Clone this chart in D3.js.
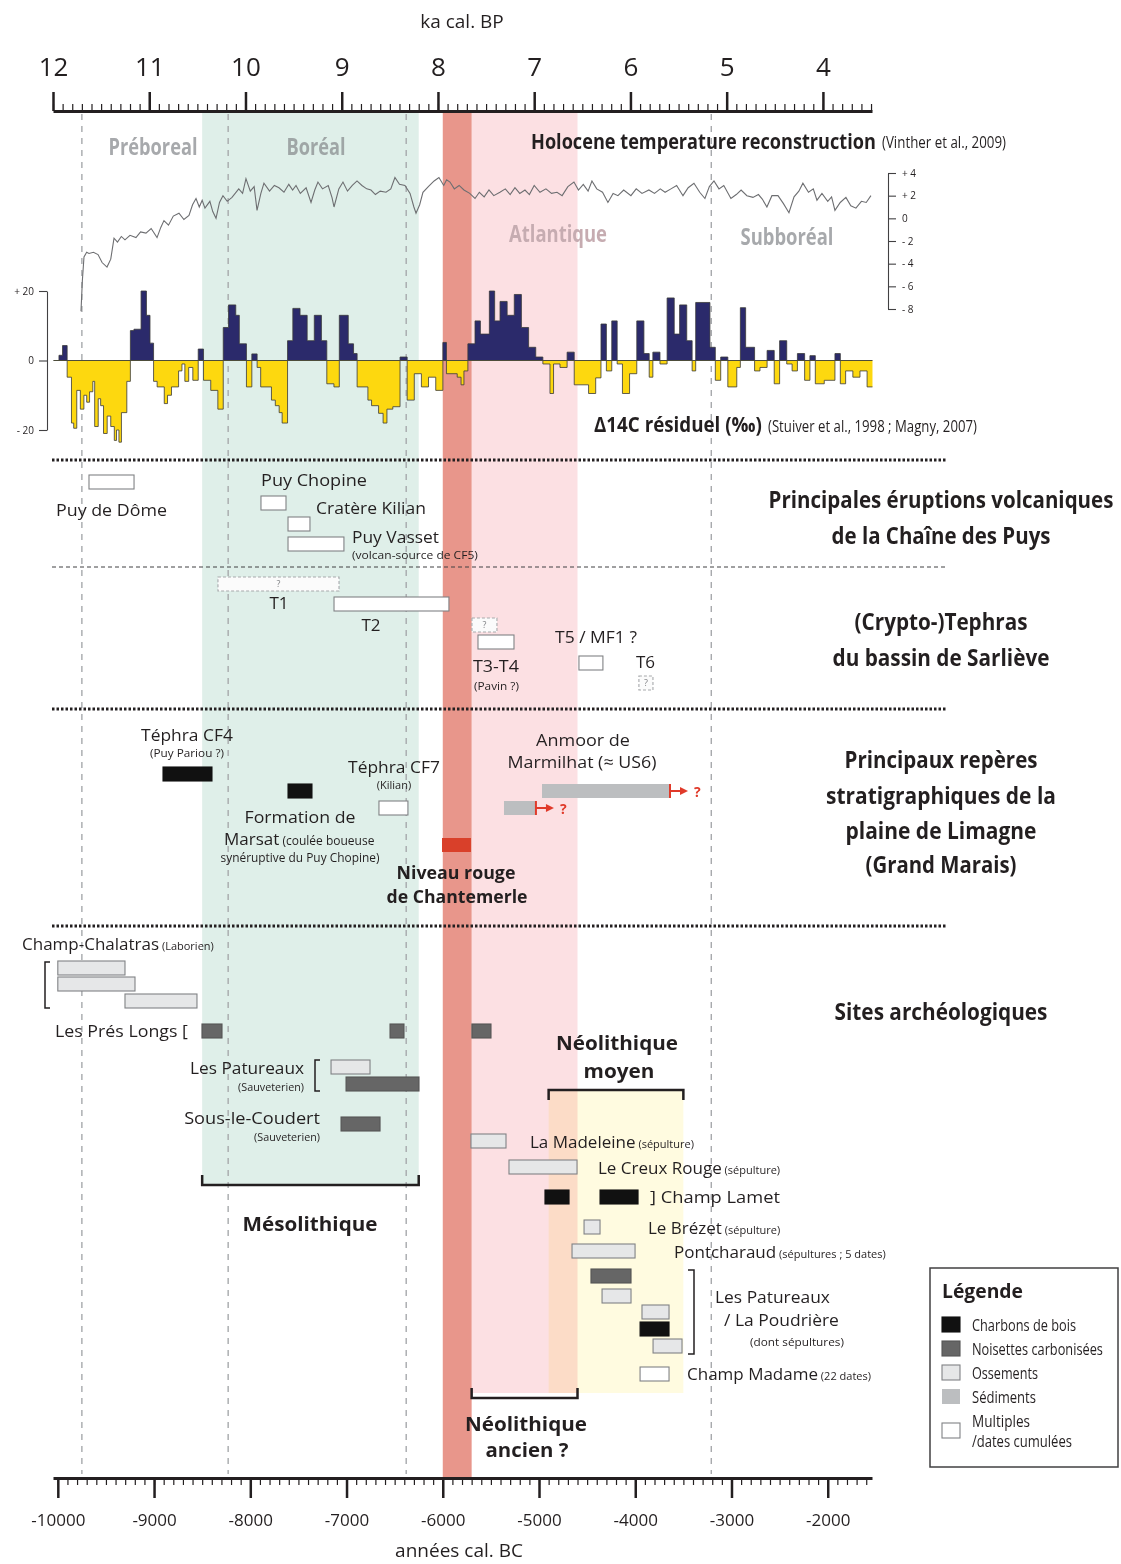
<!DOCTYPE html>
<html>
<head>
<meta charset="utf-8">
<script src="https://cdn.jsdelivr.net/npm/d3@7"></script>
<style>
  body { margin: 0; background: #fff; }
</style>
</head>
<body>
<div id="chart"></div>
<script>
// ---- data (years are cal. BC, negative) ----
var topTicksKa = [12000, 11000, 10000, 9000, 8000, 7000, 6000, 5000, 4000];
var bottomTicks = [-10000, -9000, -8000, -7000, -6000, -5000, -4000, -3000, -2000];
var periodBounds = [-9750, -8230, -6380, -3210];

var bandNames = ["Boréal", "Atlantique", "8.2 ka", "Néolithique moyen"];
var bandStart = [-8500, -5700, -6000, -4900];
var bandEnd = [-6250, -4600, -5700, -3500];

var tempTicks = [4, 2, 0, -2, -4, -6, -8];
var d14cTicks = [20, 0, -20];

// Holocene temperature anomaly (Vinther et al. 2009)
var tempSeries = [
  [-9759,-8.2],[-9745,-5.5],[-9728,-3.4],[-9700,-3.0],[-9676,-3.1],[-9630,-3.0],[-9582,-3.2],[-9540,-3.9],
  [-9489,-4.3],[-9450,-3.6],[-9416,-1.75],[-9380,-2.1],[-9340,-1.6],[-9302,-1.9],[-9250,-1.5],[-9188,-1.7],
  [-9140,-1.2],[-9084,-1.3],[-9030,-0.9],[-8969,-1.7],[-8930,-0.8],[-8897,-0.2],[-8850,-0.6],[-8800,0.2],
  [-8741,0.45],[-8690,-0.1],[-8637,0.25],[-8600,1.2],[-8564,1.75],[-8530,1.0],[-8500,1.6],[-8471,0.9],
  [-8420,1.5],[-8390,0.6],[-8356,0.0],[-8320,1.4],[-8284,2.0],[-8240,1.5],[-8190,1.85],[-8120,2.6],
  [-8080,2.2],[-8045,3.5],[-8000,2.4],[-7960,2.8],[-7930,0.7],[-7890,2.2],[-7858,3.1],[-7800,2.4],
  [-7750,2.9],[-7702,2.7],[-7650,2.3],[-7600,3.0],[-7560,2.5],[-7525,2.9],[-7480,2.2],[-7420,2.7],
  [-7369,1.4],[-7330,2.5],[-7297,3.2],[-7250,2.6],[-7190,2.9],[-7150,1.8],[-7130,1.0],[-7080,2.6],
  [-7037,3.2],[-6990,2.4],[-6940,2.9],[-6891,3.3],[-6840,2.9],[-6790,2.6],[-6746,2.5],[-6700,2.1],
  [-6650,2.4],[-6590,2.3],[-6540,2.6],[-6497,3.6],[-6450,3.0],[-6393,2.9],[-6340,2.2],[-6300,1.0],
  [-6278,0.45],[-6240,1.2],[-6206,2.3],[-6150,2.8],[-6090,3.3],[-6040,3.6],[-5990,2.9],[-5960,3.4],
  [-5925,3.2],[-5880,2.6],[-5830,2.9],[-5780,2.5],[-5720,2.2],[-5665,1.75],[-5620,2.3],[-5570,1.9],
  [-5520,2.5],[-5470,2.0],[-5406,2.3],[-5350,2.6],[-5300,2.1],[-5250,2.7],[-5200,2.2],[-5146,2.5],
  [-5100,2.1],[-5050,2.9],[-4990,2.3],[-4928,2.6],[-4870,2.2],[-4813,2.3],[-4760,2.0],[-4700,2.8],
  [-4637,3.2],[-4590,2.5],[-4540,3.0],[-4490,2.4],[-4450,3.3],[-4400,2.6],[-4340,2.3],[-4284,1.4],
  [-4230,2.2],[-4180,2.0],[-4120,2.5],[-4045,2.0],[-3990,2.6],[-3930,2.2],[-3858,2.5],[-3800,2.2],
  [-3740,2.6],[-3690,2.3],[-3629,2.6],[-3570,2.9],[-3504,2.0],[-3450,2.7],[-3390,3.1],[-3330,2.3],
  [-3276,1.75],[-3230,2.8],[-3182,3.3],[-3130,2.6],[-3080,2.9],[-3006,1.75],[-2950,2.1],[-2900,2.5],
  [-2840,2.0],[-2777,1.85],[-2720,2.1],[-2680,1.7],[-2632,1.0],[-2580,2.0],[-2517,2.0],[-2460,1.3],
  [-2403,0.5],[-2350,1.9],[-2300,2.4],[-2258,3.1],[-2200,2.3],[-2150,2.6],[-2112,1.6],[-2060,2.2],
  [-2000,1.5],[-1960,1.9],[-1925,0.7],[-1870,1.4],[-1811,1.85],[-1760,1.1],[-1707,0.9],[-1650,1.5],
  [-1600,1.4],[-1551,2.0]
];

// residual D14C (permil), step values starting at each year
var d14cSeries = [
  [-10044,0],[-9988,1.5],[-9951,4.3],[-9903,-4.8],[-9858,-18],[-9835,-19.5],[-9803,-8.6],[-9766,-14],
  [-9729,-10],[-9700,-12],[-9670,-9],[-9636,-6],[-9617,-19],[-9580,-11],[-9555,-13],[-9525,-21],
  [-9487,-16],[-9450,-19],[-9413,-23],[-9390,-20],[-9365,-23.5],[-9339,-15],[-9283,-6],
  [-9246,8.6],[-9209,9],[-9135,20],[-9079,13],[-9042,5],[-9005,-6],[-8968,-7.6],[-8894,-12.4],
  [-8860,-10],[-8819,-7.6],[-8745,-3],[-8710,-1],[-8680,-6],[-8640,-2],[-8597,-5.7],[-8541,3.3],
  [-8486,-5.7],[-8411,-8.6],[-8337,-14],[-8281,9.5],
  [-8226,16],[-8151,13],[-8114,4.8],[-8040,-7.6],[-7984,1.9],[-7929,-2],[-7892,-7.6],[-7780,-11.4],
  [-7740,-13],[-7700,-15],[-7669,-18],[-7613,5.7],[-7558,15],[-7483,13],[-7409,5.7],[-7335,13],
  [-7261,5.7],[-7205,-6.7],[-7131,-7.6],[-7075,13],[-6982,4.8],[-6927,2],[-6890,-7.6],[-6778,-11.4],
  [-6740,-13],[-6667,-15.2],[-6620,-18],[-6580,-14],[-6519,-13.3],
  [-6444,1],[-6370,-11.4],[-6296,-3.8],[-6222,-7.6],[-6148,-4.8],[-6073,-8.6],[-5999,5.2],[-5962,-3.8],
  [-5850,-4.8],[-5810,-7],[-5780,-3],[-5739,4.8],[-5665,11.4],[-5609,7.6],[-5516,20],[-5461,11.4],
  [-5405,17],[-5331,13],[-5257,19],[-5183,9.5],[-5108,3.8],[-5034,1],[-4960,-1],[-4886,-9.5],
  [-4849,-1],[-4782,-2],
  [-4708,2.4],[-4634,-7],[-4485,-9.5],[-4411,-5],[-4356,10.5],[-4300,-3],[-4244,11.4],[-4188,-1],
  [-4133,-9.5],[-4059,-3.8],[-3984,11.4],[-3910,2],[-3855,-4.8],[-3817,2.4],[-3743,-1],[-3669,18],
  [-3595,7.6],[-3539,16],[-3465,5.7],[-3409,-3],[-3372,16.7],[-3224,3.8],[-3168,-5.7],[-3112,1],
  [-3038,-7.6],[-2945,-2],[-2908,15.2],[-2853,3.8],[-2760,-3],[-2704,-2],[-2630,2.9],[-2556,-6.7],
  [-2500,5.7],[-2426,-1],[-2370,-3],[-2315,2],[-2240,-5.7],[-2185,1.4],[-2129,-6.7],[-2036,-5.7],
  [-1925,2],[-1869,-6.7],[-1814,-3],[-1739,-4.8],[-1665,-3],[-1591,-7.6],[-1535,-7.6]
];

// dated events: start / end (BC), material type, layout row
var eruptions = [
  {name: "Puy de Dôme", start: -9676, end: -9208, type: "multiple", row: "dome"},
  {name: "Puy Chopine", start: -7889, end: -7629, type: "multiple", row: "chopine"},
  {name: "Cratère Kilian", start: -7608, end: -7380, type: "multiple", row: "kilian"},
  {name: "Puy Vasset", start: -7608, end: -7027, type: "multiple", row: "vasset"}
];
var tephras = [
  {name: "T1", start: -8336, end: -7078, type: "uncertain", row: "t1"},
  {name: "T2", start: -7130, end: -5936, type: "multiple", row: "t2"},
  {name: "T3-T4 ?", start: -5697, end: -5437, type: "uncertain", row: "t34q"},
  {name: "T3-T4", start: -5634, end: -5260, type: "multiple", row: "t34"},
  {name: "T5 / MF1", start: -4585, end: -4336, type: "multiple", row: "t5"},
  {name: "T6", start: -3962, end: -3816, type: "uncertain", row: "t6"}
];
var reperes = [
  {name: "Téphra CF4", start: -8907, end: -8398, type: "charbon", row: "cf4"},
  {name: "Formation de Marsat", start: -7608, end: -7359, type: "charbon", row: "marsat"},
  {name: "Téphra CF7", start: -6663, end: -6362, type: "multiple", row: "cf7"},
  {name: "Niveau rouge", start: -6008, end: -5707, type: "rouge", row: "rouge"},
  {name: "Anmoor de Marmilhat", start: -4969, end: -3639, type: "sediment", row: "anmoor"},
  {name: "Anmoor (base)", start: -5364, end: -5032, type: "sediment", row: "anmoor2"}
];
var sites = [
  {name: "Champ-Chalatras", start: -10000, end: -9302, type: "ossement", row: "chal1"},
  {name: "Champ-Chalatras", start: -10000, end: -9198, type: "ossement", row: "chal2"},
  {name: "Champ-Chalatras", start: -9302, end: -8554, type: "ossement", row: "chal3"},
  {name: "Les Prés Longs", start: -8502, end: -8294, type: "noisette", row: "pres"},
  {name: "Les Prés Longs", start: -6548, end: -6403, type: "noisette", row: "pres"},
  {name: "Les Prés Longs", start: -5697, end: -5499, type: "noisette", row: "pres"},
  {name: "Les Patureaux", start: -7161, end: -6756, type: "ossement", row: "pat1"},
  {name: "Les Patureaux", start: -7005, end: -6247, type: "noisette", row: "pat2"},
  {name: "Sous-le-Coudert", start: -7057, end: -6652, type: "noisette", row: "sous"},
  {name: "La Madeleine", start: -5707, end: -5343, type: "ossement", row: "mad"},
  {name: "Le Creux Rouge", start: -5312, end: -4605, type: "ossement", row: "creux"},
  {name: "Champ Lamet", start: -4938, end: -4688, type: "charbon", row: "lamet"},
  {name: "Champ Lamet", start: -4366, end: -3971, type: "charbon", row: "lamet"},
  {name: "Le Brézet", start: -4532, end: -4366, type: "ossement", row: "brez"},
  {name: "Pontcharaud", start: -4657, end: -4002, type: "ossement", row: "pont"},
  {name: "Les Patureaux / La Poudrière", start: -4460, end: -4044, type: "noisette", row: "pp1"},
  {name: "Les Patureaux / La Poudrière", start: -4345, end: -4044, type: "ossement", row: "pp2"},
  {name: "Les Patureaux / La Poudrière", start: -3930, end: -3649, type: "ossement", row: "pp3"},
  {name: "Les Patureaux / La Poudrière", start: -3950, end: -3649, type: "charbon", row: "pp4"},
  {name: "Les Patureaux / La Poudrière", start: -3815, end: -3514, type: "ossement", row: "pp5"},
  {name: "Champ Madame", start: -3950, end: -3649, type: "multiple", row: "madame"}
];
var culturePeriods = ["Mésolithique", "Néolithique moyen", "Néolithique ancien ?"];
var cultureStart = [-8500, -4900, -5700];
var cultureEnd = [-6250, -3500, -4600];

var legendTypes = ["charbon", "noisette", "ossement", "sediment", "multiple"];
var legendLabels = ["Charbons de bois", "Noisettes carbonisées", "Ossements", "Sédiments", "Multiples"];

// ---- layout ----
var W = 1121, H = 1564;
var regFont = "'Open Sans', 'Noto Sans', sans-serif";
var condFont = "'Open Sans', 'Noto Sans', sans-serif";
var ink = "#231f20";

var rowTop = {
  dome: 475, chopine: 496, kilian: 517, vasset: 537,
  t1: 577, t2: 597, t34q: 618, t34: 635, t5: 656, t6: 676,
  cf4: 767, marsat: 784, cf7: 801, rouge: 838, anmoor: 784, anmoor2: 801,
  chal1: 961, chal2: 977, chal3: 994, pres: 1024, pat1: 1060, pat2: 1077, sous: 1117,
  mad: 1134, creux: 1160, lamet: 1190, brez: 1220, pont: 1244,
  pp1: 1269, pp2: 1289, pp3: 1305, pp4: 1322, pp5: 1339, madame: 1367
};
var boxStyle = {
  charbon:  {fill: "#111", stroke: "#111", dash: null},
  noisette: {fill: "#666", stroke: "#555", dash: null},
  ossement: {fill: "#e6e7e8", stroke: "#808285", dash: null},
  sediment: {fill: "#bcbec0", stroke: "none", dash: null},
  multiple: {fill: "#fff", stroke: "#808285", dash: null},
  uncertain:{fill: "#fbfbfb", stroke: "#a7a9ac", dash: "3,2"},
  rouge:    {fill: "#d9402a", stroke: "none", dash: null}
};

var x = d3.scaleLinear().domain([-10050, -1540]).range([53, 872]);
var xBP = d3.scaleLinear().domain([12000, 3490]).range([53, 872]);
var yTemp = d3.scaleLinear().domain([-8, 4]).range([309, 173]);
var yD14 = d3.scaleLinear().domain([-20, 20]).range([430, 291]);

var svg = d3.select("#chart").append("svg")
    .attr("width", W).attr("height", H)
    .style("background", "#fff");

// w = width of the text in the reference: the text is squeezed / stretched
// horizontally to that width (the original uses a condensed face)
function label(g, px, py, txt, o) {
    o = o || {};
    var size = o.size || 17;
    var holder = g.append("g").attr("transform", "translate(" + px + "," + py + ")");
    var t = holder.append("text")
        .attr("x", 0).attr("y", 0).attr("dy", "0.35em")
        .attr("text-anchor", o.anchor || "start")
        .style("font-family", o.cond ? condFont : regFont)
        .style("font-size", size + "px")
        .style("font-weight", o.bold ? 700 : 400)
        .style("fill", o.color || ink)
        .text(txt);
    if (o.w) {
        var n = t.node().getComputedTextLength();
        holder.attr("transform", "translate(" + px + "," + py + ") scale(" + (o.w / n).toFixed(4) + ",1)");
    }
    return t;
}
// label with a big part and a small part on the same line
function label2(g, px, py, big, small, o) {
    o = o || {};
    var t = g.append("text")
        .attr("x", px).attr("y", py).attr("dy", "0.35em")
        .attr("text-anchor", o.anchor || "start")
        .style("font-family", regFont).style("fill", ink);
    t.append("tspan").style("font-size", (o.size || 17) + "px").text(big);
    t.append("tspan").style("font-size", (o.small || 11) + "px").text(" " + small);
    return t;
}

// ---- background bands ----
var bands = svg.append("g");
var bandFill = ["#dfefe9", "#fce0e3", "#e8968b", "#fffbe0"];
var bandY0 = [112, 112, 112, 1090];
var bandY1 = [1185, 1393, 1478, 1393];
bandNames.forEach(function(n, i) {
    bands.append("rect")
        .attr("x", x(bandStart[i])).attr("width", x(bandEnd[i]) - x(bandStart[i]))
        .attr("y", bandY0[i]).attr("height", bandY1[i] - bandY0[i])
        .attr("fill", bandFill[i])
        .style("mix-blend-mode", i == 3 ? "multiply" : null);
});

// dashed period boundaries
svg.append("g").selectAll("line").data(periodBounds).enter().append("line")
    .attr("x1", function(d) { return x(d); }).attr("x2", function(d) { return x(d); })
    .attr("y1", 114).attr("y2", 1474)
    .attr("stroke", "#a7a9ac").attr("stroke-width", 1.4).attr("stroke-dasharray", "6,6");

// period names
var pn = svg.append("g");
label(pn, 153, 147, "Préboreal", {anchor: "middle", bold: true, cond: true, size: 23, w: 89, color: "#a7a9ac"});
label(pn, 316, 147, "Boréal", {anchor: "middle", bold: true, cond: true, size: 23, w: 59, color: "#9fa6a6"});
label(pn, 558, 234, "Atlantique", {anchor: "middle", bold: true, cond: true, size: 23, w: 98, color: "#c6acb1"});
label(pn, 787, 237, "Subboréal", {anchor: "middle", bold: true, cond: true, size: 23, w: 93, color: "#a7a9ac"});

// ---- top axis (ka cal BP) ----
var topG = svg.append("g").attr("transform", "translate(0,111)");
topG.append("g")
    .call(d3.axisTop(xBP).tickValues(d3.range(12000, 3490, -100)).tickSize(7).tickSizeOuter(0).tickFormat(""))
    .call(function(g) { g.select(".domain").remove(); g.selectAll("line").attr("stroke", ink).attr("stroke-width", 1.2); });
topG.append("g")
    .call(d3.axisTop(xBP).tickValues(topTicksKa).tickSize(19).tickSizeOuter(0).tickPadding(16)
        .tickFormat(function(d) { return d / 1000; }))
    .call(function(g) {
        g.select(".domain").attr("stroke", ink).attr("stroke-width", 3);
        g.selectAll("line").attr("stroke", ink).attr("stroke-width", 2.5);
        g.selectAll("text").style("font-family", regFont).style("font-size", "26px").attr("fill", ink);
    });
label(svg, 462, 21, "ka cal. BP", {anchor: "middle", size: 19});

// ---- bottom axis (années cal BC) ----
var botG = svg.append("g").attr("transform", "translate(0,1478)");
botG.append("g")
    .call(d3.axisBottom(x).tickValues(d3.range(-10000, -1540, 100)).tickSize(7).tickSizeOuter(0).tickFormat(""))
    .call(function(g) { g.select(".domain").remove(); g.selectAll("line").attr("stroke", ink).attr("stroke-width", 1.2); });
botG.append("g")
    .call(d3.axisBottom(x).tickValues(bottomTicks).tickSize(20).tickSizeOuter(0).tickPadding(16)
        .tickFormat(function(d) { return String(d); }))
    .call(function(g) {
        g.select(".domain").attr("stroke", ink).attr("stroke-width", 3);
        g.selectAll("line").attr("stroke", ink).attr("stroke-width", 2.5);
        g.selectAll("text").style("font-family", regFont).style("font-size", "17px").attr("fill", ink);
    });
label(svg, 459, 1550, "années cal. BC", {anchor: "middle", size: 19});

// ---- temperature curve ----
svg.append("path").datum(tempSeries)
    .attr("fill", "none").attr("stroke", "#6d6e71").attr("stroke-width", 1.1)
    .attr("d", d3.line().x(function(d) { return x(d[0]); }).y(function(d) { return yTemp(d[1]); }));

svg.append("g").attr("transform", "translate(888,0)")
    .call(d3.axisRight(yTemp).tickValues(tempTicks).tickSize(8).tickSizeOuter(0).tickPadding(6)
        .tickFormat(function(d) { return d > 0 ? "+ " + d : (d < 0 ? "- " + (-d) : "0"); }))
    .call(function(g) {
        g.selectAll("path,line").attr("stroke", "#414042").attr("stroke-width", 1.1);
        g.selectAll("text").style("font-family", regFont).style("font-size", "10px").attr("fill", ink);
    });

var ht = svg.append("g");
label(ht, 531, 141, "Holocene temperature reconstruction", {bold: true, cond: true, size: 22, w: 345});
label(ht, 882, 142, "(Vinther et al., 2009)", {cond: true, size: 16, w: 124});

// ---- residual D14C ----
var defs = svg.append("defs");
defs.append("clipPath").attr("id", "clipPos").append("rect")
    .attr("x", 0).attr("y", 0).attr("width", W).attr("height", yD14(0));
defs.append("clipPath").attr("id", "clipNeg").append("rect")
    .attr("x", 0).attr("y", yD14(0)).attr("width", W).attr("height", 200);

var d14Area = d3.area().curve(d3.curveStepAfter)
    .x(function(d) { return x(d[0]); })
    .y0(yD14(0)).y1(function(d) { return yD14(d[1]); });
svg.append("path").datum(d14cSeries).attr("clip-path", "url(#clipPos)")
    .attr("fill", "#2b2a6b").attr("d", d14Area);
svg.append("path").datum(d14cSeries).attr("clip-path", "url(#clipNeg)")
    .attr("fill", "#fdd80f").attr("d", d14Area);
svg.append("path").datum(d14cSeries)
    .attr("fill", "none").attr("stroke", "#3a3a3a").attr("stroke-width", 0.8)
    .attr("d", d3.line().curve(d3.curveStepAfter).x(function(d) { return x(d[0]); }).y(function(d) { return yD14(d[1]); }));
svg.append("line")
    .attr("x1", x(-10044)).attr("x2", x(-1535)).attr("y1", yD14(0)).attr("y2", yD14(0))
    .attr("stroke", "#4d4d3a").attr("stroke-width", 1);

svg.append("g").attr("transform", "translate(47,0)")
    .call(d3.axisLeft(yD14).tickValues(d14cTicks).tickSize(8).tickSizeOuter(0).tickPadding(5)
        .tickFormat(function(d) { return d > 0 ? "+ " + d : (d < 0 ? "- " + (-d) : "0"); }))
    .call(function(g) {
        g.selectAll("path,line").attr("stroke", "#414042").attr("stroke-width", 1.1);
        g.selectAll("text").style("font-family", regFont).style("font-size", "10px").attr("fill", ink);
    });

label(svg, 594, 425, "Δ14C résiduel (‰)", {bold: true, cond: true, size: 21, w: 168});
label(svg, 768, 426, "(Stuiver et al., 1998 ; Magny, 2007)", {cond: true, size: 16, w: 209});

// ---- section separators ----
[460, 709, 926].forEach(function(yy) {
    svg.append("line").attr("x1", 52).attr("x2", 946).attr("y1", yy).attr("y2", yy)
        .attr("stroke", ink).attr("stroke-width", 3).attr("stroke-dasharray", "2.5,2");
});
svg.append("line").attr("x1", 52).attr("x2", 946).attr("y1", 567).attr("y2", 567)
    .attr("stroke", "#414042").attr("stroke-width", 1).attr("stroke-dasharray", "4,3");

// section titles
var st = svg.append("g");
var tOpt = function(w) { return {anchor: "middle", bold: true, cond: true, size: 23, w: w}; };
label(st, 941, 500, "Principales éruptions volcaniques", tOpt(345));
label(st, 941, 536, "de la Chaîne des Puys", tOpt(219));
label(st, 941, 622, "(Crypto-)Tephras", tOpt(173));
label(st, 941, 658, "du bassin de Sarliève", tOpt(217));
label(st, 941, 760, "Principaux repères", tOpt(193));
label(st, 941, 796, "stratigraphiques de la", tOpt(230));
label(st, 941, 831, "plaine de Limagne", tOpt(191));
label(st, 941, 865, "(Grand Marais)", tOpt(151));
label(st, 941, 1012, "Sites archéologiques", tOpt(213));

// ---- boxes ----
function drawBoxes(data) {
    var g = svg.append("g");
    data.forEach(function(d) {
        var s = boxStyle[d.type];
        g.append("rect")
            .attr("x", x(d.start)).attr("y", rowTop[d.row])
            .attr("width", x(d.end) - x(d.start)).attr("height", 14)
            .attr("fill", s.fill).attr("stroke", s.stroke).attr("stroke-width", 1.1)
            .attr("stroke-dasharray", s.dash);
        if (d.type == "uncertain") {
            label(g, (x(d.start) + x(d.end)) / 2, rowTop[d.row] + 7, "?", {anchor: "middle", size: 9, color: "#808285"});
        }
    });
}
drawBoxes(eruptions);
drawBoxes(tephras);
drawBoxes(reperes);
drawBoxes(sites);

// eruption labels
var el = svg.append("g");
label(el, 56, 510, "Puy de Dôme", {size: 17, w: 111});
label(el, 261, 480, "Puy Chopine", {size: 17, w: 106});
label(el, 316, 508, "Cratère Kilian", {size: 17, w: 110});
label(el, 352, 537, "Puy Vasset", {size: 17, w: 87});
label(el, 352, 555, "(volcan-source de CF5)", {size: 11, w: 126});

// tephra labels
label(el, 279, 603, "T1", {anchor: "middle", size: 17});
label(el, 371, 625, "T2", {anchor: "middle", size: 17});
label(el, 473, 666, "T3-T4", {size: 17, w: 46});
label(el, 474, 686, "(Pavin ?)", {size: 11, w: 45});
label(el, 555, 637, "T5 / MF1 ?", {size: 17, w: 82});
label(el, 636, 662, "T6", {size: 17});

// stratigraphic labels
label(el, 187, 735, "Téphra CF4", {anchor: "middle", size: 17, w: 92});
label(el, 187, 753, "(Puy Pariou ?)", {anchor: "middle", size: 11, w: 74});
label(el, 394, 767, "Téphra CF7", {anchor: "middle", size: 17, w: 92});
label(el, 394, 785, "(Kilian)", {anchor: "middle", size: 11});
label(el, 300, 817, "Formation de", {anchor: "middle", size: 17, w: 111});
label2(el, 224, 839, "Marsat", "(coulée boueuse", {small: 12});
label(el, 300, 858, "synéruptive du Puy Chopine)", {anchor: "middle", size: 12, w: 159});
label(el, 456, 873, "Niveau rouge", {anchor: "middle", bold: true, size: 18, w: 119});
label(el, 457, 897, "de Chantemerle", {anchor: "middle", bold: true, size: 18, w: 141});
label(el, 583, 740, "Anmoor de", {anchor: "middle", size: 17, w: 94});
label(el, 582, 762, "Marmilhat (≈ US6)", {anchor: "middle", size: 17, w: 149});

// red open-ended arrows
[["anmoor", -3639], ["anmoor2", -5032]].forEach(function(a) {
    var ax = x(a[1]), ay = rowTop[a[0]];
    var g = svg.append("g").attr("stroke", "#e03a2a").attr("fill", "#e03a2a");
    g.append("line").attr("x1", ax).attr("x2", ax).attr("y1", ay).attr("y2", ay + 14).attr("stroke-width", 2);
    g.append("line").attr("x1", ax).attr("x2", ax + 11).attr("y1", ay + 7).attr("y2", ay + 7).attr("stroke-width", 2);
    g.append("path").attr("stroke", "none")
        .attr("d", "M" + (ax + 10) + "," + (ay + 3) + "L" + (ax + 18) + "," + (ay + 7) + "L" + (ax + 10) + "," + (ay + 11) + "Z");
    label(svg, ax + 24, ay + 8, "?", {size: 14, bold: true, color: "#e03a2a"});
});

// site labels
var sl = svg.append("g");
label2(sl, 22, 944, "Champ-Chalatras", "(Laborien)", {small: 11});
sl.append("path").attr("d", "M50,962H45V1008H50").attr("fill", "none").attr("stroke", ink).attr("stroke-width", 1.5);
label(sl, 55, 1031, "Les Prés Longs [", {size: 17, w: 133});
label(sl, 304, 1068, "Les Patureaux", {anchor: "end", size: 17, w: 114});
label(sl, 304, 1087, "(Sauveterien)", {anchor: "end", size: 11, w: 66});
sl.append("path").attr("d", "M320,1060H315V1091H320").attr("fill", "none").attr("stroke", ink).attr("stroke-width", 1.5);
label(sl, 320, 1118, "Sous-le-Coudert", {anchor: "end", size: 17, w: 136});
label(sl, 320, 1137, "(Sauveterien)", {anchor: "end", size: 11, w: 66});
label2(sl, 530, 1142, "La Madeleine", "(sépulture)");
label2(sl, 598, 1168, "Le Creux Rouge", "(sépulture)");
label(sl, 650, 1197, "] Champ Lamet", {size: 17, w: 130});
label2(sl, 648, 1228, "Le Brézet", "(sépulture)");
label2(sl, 674, 1252, "Pontcharaud", "(sépultures ; 5 dates)");
sl.append("path").attr("d", "M688,1270H694V1354H688").attr("fill", "none").attr("stroke", ink).attr("stroke-width", 1.5);
label(sl, 715, 1297, "Les Patureaux", {size: 17, w: 115});
label(sl, 724, 1320, "/ La Poudrière", {size: 17, w: 115});
label(sl, 750, 1342, "(dont sépultures)", {size: 11, w: 94});
label2(sl, 687, 1374, "Champ Madame", "(22 dates)");

// culture period brackets
var cp = svg.append("g");
var brY = [1185, 1090, 1398], brDir = [-1, 1, -1];
culturePeriods.forEach(function(n, i) {
    var x0 = x(cultureStart[i]), x1 = x(cultureEnd[i]), yy = brY[i], dy = 10 * brDir[i];
    cp.append("path")
        .attr("d", "M" + x0 + "," + (yy + dy) + "V" + yy + "H" + x1 + "V" + (yy + dy))
        .attr("fill", "none").attr("stroke", ink).attr("stroke-width", 2.5);
});
label(cp, 310, 1224, "Mésolithique", {anchor: "middle", bold: true, size: 20, w: 135});
label(cp, 617, 1043, "Néolithique", {anchor: "middle", bold: true, size: 20, w: 122});
label(cp, 619, 1071, "moyen", {anchor: "middle", bold: true, size: 20, w: 71});
label(cp, 526, 1424, "Néolithique", {anchor: "middle", bold: true, size: 20, w: 122});
label(cp, 527, 1450, "ancien ?", {anchor: "middle", bold: true, size: 20, w: 83});

// ---- legend ----
var lg = svg.append("g");
lg.append("rect").attr("x", 930).attr("y", 1268).attr("width", 188).attr("height", 199)
    .attr("fill", "#fff").attr("stroke", "#414042").attr("stroke-width", 1.5);
label(lg, 942, 1291, "Légende", {bold: true, size: 19, w: 81});
var lgW = [104, 131, 66, 64, 58];
legendTypes.forEach(function(t, i) {
    var s = boxStyle[t], yy = i < 4 ? 1317 + i * 24 : 1423;
    lg.append("rect").attr("x", 942).attr("y", yy).attr("width", 18).attr("height", 15)
        .attr("fill", s.fill).attr("stroke", s.stroke).attr("stroke-width", 1.1);
    label(lg, 972, i < 4 ? 1325 + i * 24 : 1421, legendLabels[i], {cond: true, size: 16, w: lgW[i]});
});
label(lg, 972, 1441, "/dates cumulées", {cond: true, size: 16, w: 100});
</script>
</body>
</html>
